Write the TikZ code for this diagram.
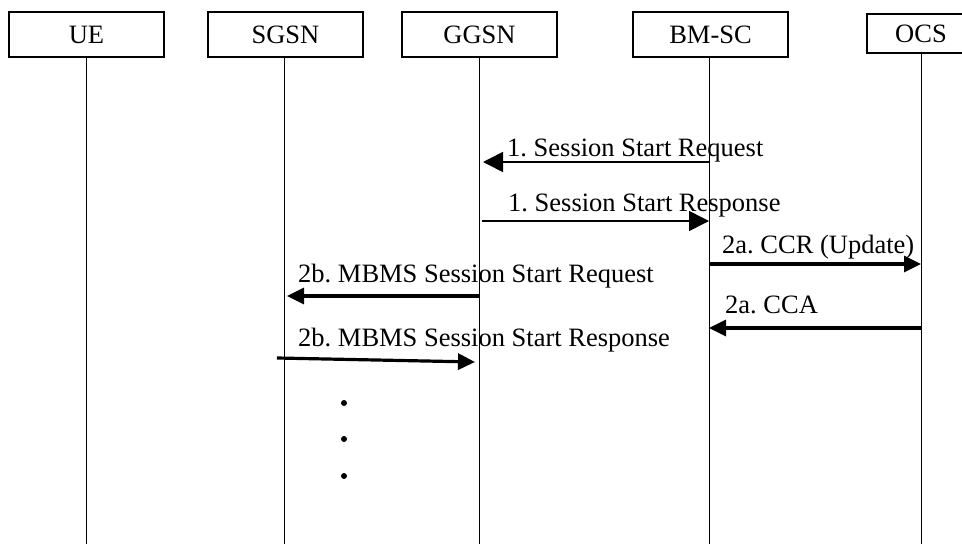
\documentclass[tikz,border=0pt]{standalone}
\usepackage{fontspec}
\setmainfont{Liberation Serif}
\usetikzlibrary{arrows.meta}
\frenchspacing
\begin{document}
\begin{tikzpicture}[x=1pt,y=-1pt,
  entity/.style={draw,line width=1.4pt,minimum width=155pt,minimum height=45pt,inner sep=0pt,font=\fontsize{26.5}{30}\selectfont},
  lifeline/.style={line width=1pt},
  thinmsg/.style={line width=1.6pt,-{Triangle[length=20pt,width=20pt]}},
  thickmsg/.style={line width=3.2pt,-{Triangle[length=17pt,width=16pt]}},
  msglabel/.style={anchor=base west,inner sep=0pt,font=\fontsize{26.5}{30}\selectfont},
  dotmark/.style={fill=black,circle,inner sep=0pt,minimum size=6pt}]
\useasboundingbox (0,0) rectangle (962,544);
% entities
\node[entity] (ue) at (86.5,34.5) {UE};
\node[entity] (sgsn) at (285.5,34.5) {SGSN};
\node[entity] (ggsn) at (479.5,34.5) {GGSN};
\node[entity] (bmsc) at (710.5,34.5) {BM-SC};
\draw[line width=1.4pt] (975,14) -| (867,53) -- (975,53);
\node[font=\fontsize{26.5}{30}\selectfont,inner sep=0pt] (ocs) at (921,33.5) {OCS};
\coordinate (ocsb) at (921,53);
% lifelines
\coordinate (ueE) at (86,544);
\coordinate (sgsnE) at (284,544);
\coordinate (ggsnE) at (479,544);
\coordinate (bmscE) at (709,544);
\coordinate (ocsE) at (921,544);
\draw[lifeline] (ue.south -| ueE) -- (ueE);
\draw[lifeline] (sgsn.south -| sgsnE) -- (sgsnE);
\draw[lifeline] (ggsn.south -| ggsnE) -- (ggsnE);
\draw[lifeline] (bmsc.south -| bmscE) -- (bmscE);
\draw[lifeline] (ocsb) -- (ocsE);
% message endpoints
\coordinate (m1a) at (709,162); \coordinate (m1b) at (483,162);
\coordinate (m2a) at (482,221); \coordinate (m2b) at (709,221);
\coordinate (m3a) at (709,264); \coordinate (m3b) at (921,264);
\coordinate (m4a) at (479,296); \coordinate (m4b) at (287,296);
\coordinate (m5a) at (921,328); \coordinate (m5b) at (709,328);
\coordinate (m6a) at (277,358); \coordinate (m6b) at (475,362);
% messages
\draw[thinmsg] (m1a) -- (m1b);
\draw[thinmsg] (m2a) -- (m2b);
\draw[thickmsg] (m3a) -- (m3b);
\draw[thickmsg] (m4a) -- (m4b);
\draw[thickmsg] (m5a) -- (m5b);
\draw[thickmsg] (m6a) -- (m6b);
% labels
\node[msglabel] (l1) at (507,156) {1. Session Start Request};
\node[msglabel] (l2) at (508,211) {1. Session Start Response};
\node[msglabel] (l3) at (722,253) {2a. CCR (Update)};
\node[msglabel] (l4) at (298,282) {2b. MBMS Session Start Request};
\node[msglabel] (l5) at (725,313) {2a. CCA};
\node[msglabel] (l6) at (298,346) {2b. MBMS Session Start Response};
% dots
\node[dotmark] (d1) at (344,403) {};
\node[dotmark] (d2) at (344,439) {};
\node[dotmark] (d3) at (344,476) {};
\end{tikzpicture}
\end{document}
